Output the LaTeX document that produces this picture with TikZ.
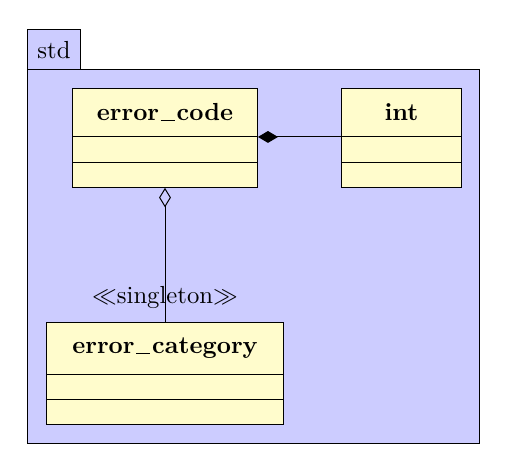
\documentclass[tikz,border=0pt]{standalone}
\usetikzlibrary{arrows.meta,positioning}
\newcommand{\umlus}{\leavevmode\kern.06em\vbox{\hrule width.58em}\kern.07em}
\tikzset{
  package/.style={draw,fill=blue!20,inner sep=0pt,outer sep=0pt},
  classtitle/.style={draw,fill=yellow!20,inner sep=0pt,outer sep=0pt,font=\bfseries},
  classpart/.style={draw,fill=yellow!20,inner sep=0pt,outer sep=0pt},
  composition/.style={-{Diamond[length=8.1pt,width=4.8pt]}},
  aggregation/.style={-{Diamond[open,length=7.9pt,width=4.8pt]}}
}
\begin{document}
\begin{tikzpicture}[x=0.405pt,y=0.405pt]
  \useasboundingbox (0,0) rectangle (507,472);
  % package std
  \node[package,minimum width=182.7pt,minimum height=151.1pt] (std) at (253.5,215.5) {};
  \node[package,anchor=south west,minimum width=21.1pt,minimum height=16.2pt] (stdtab) at (std.north west) {std};
  % class error_code
  \node[classtitle,minimum width=75.3pt,minimum height=19.8pt] (errcode) at (165,359.5) {error\umlus code};
  \node[classpart,minimum width=75.3pt,minimum height=10.5pt,below=0pt of errcode] (errcode-attr) {};
  \node[classpart,minimum width=75.3pt,minimum height=10.1pt,below=0pt of errcode-attr] (errcode-ops) {};
  % class int
  \node[classtitle,minimum width=48.2pt,minimum height=19.8pt] (int) at (401.5,359.5) {int};
  \node[classpart,minimum width=48.2pt,minimum height=10.5pt,below=0pt of int] (int-attr) {};
  \node[classpart,minimum width=48.2pt,minimum height=10.1pt,below=0pt of int-attr] (int-ops) {};
  % class error_category
  \node[classtitle,minimum width=96pt,minimum height=20.7pt] (errcat) at (165,123.5) {error\umlus category};
  \node[classpart,minimum width=96pt,minimum height=10.5pt,below=0pt of errcat] (errcat-attr) {};
  \node[classpart,minimum width=96pt,minimum height=10.1pt,below=0pt of errcat-attr] (errcat-ops) {};
  % relations
  \draw[composition] (int.south west) -- (errcode.south east);
  \draw[aggregation] (errcat.north) -- node[pos=0.19]{$\ll$singleton$\gg$} (errcode-ops.south);
\end{tikzpicture}
\end{document}
